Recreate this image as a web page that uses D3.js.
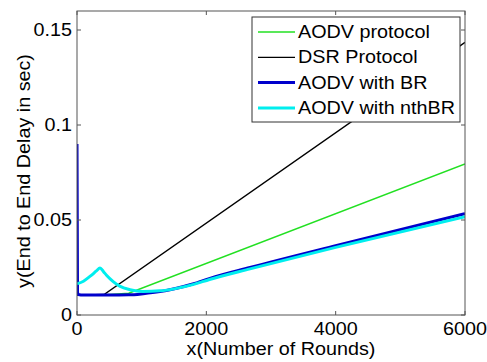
<!DOCTYPE html>
<html>
<head>
<meta charset="utf-8">
<script src="https://cdn.jsdelivr.net/npm/d3@7"></script>
<style>
  body { margin: 0; background: #fff; }
  text { font-family: "Liberation Sans", Arial, sans-serif; fill: #000; }
</style>
</head>
<body>
<div id="chart"></div>
<script>
// series
const aodvX = [0, 400, 800, 6000];
const aodvY = [0.0105, 0.0105, 0.0115, 0.0795];

const dsrX = [0, 418, 6000];
const dsrY = [0.0105, 0.0108, 0.1435];

const brX = [0, 8, 20, 100, 500, 800, 1025, 1283, 1541, 1790, 2056, 2675, 4000, 6000];
const brY = [0.09, 0.012, 0.0108, 0.0105, 0.0105, 0.0106, 0.0112, 0.0123, 0.0141, 0.0163, 0.0193, 0.0250, 0.0365, 0.0533];

const nthX = [0, 100, 200, 300, 356, 410, 460, 560, 660, 820, 1020, 1280, 1540, 1790, 2050, 2675, 4000, 6000];
const nthY = [0.0164, 0.0178, 0.0203, 0.0232, 0.0248, 0.0228, 0.0208, 0.0176, 0.0152, 0.0133, 0.0124, 0.0127, 0.0140, 0.0160, 0.0187, 0.0243, 0.0356, 0.0517];

const xTicks = [0, 2000, 4000, 6000];
const yTicks = [0, 0.05, 0.1, 0.15];
const yTickLabels = ["0", "0.05", "0.1", "0.15"];

const series = [
  {name: "AODV protocol", xs: aodvX, ys: aodvY, color: "#22e022", width: 1.5, curve: d3.curveLinear},
  {name: "DSR Protocol", xs: dsrX, ys: dsrY, color: "#000000", width: 1.3, curve: d3.curveLinear},
  {name: "AODV with BR", xs: brX, ys: brY, color: "#0000cc", width: 3, curve: d3.curveMonotoneX},
  {name: "AODV with nthBR", xs: nthX, ys: nthY, color: "#00eeee", width: 3, curve: d3.curveMonotoneX}
];

const W = 487, H = 362;
const margin = {top: 11, right: 22, bottom: 47, left: 77};
const w = W - margin.left - margin.right;
const h = H - margin.top - margin.bottom;
const sx = 1.13; // text in the picture is a bit wider than tall

const svg = d3.select('#chart').append('svg')
  .attr('width', W).attr('height', H);

const xScale = d3.scaleLinear().domain([0, 6000]).range([0, w]);
const yScale = d3.scaleLinear().domain([0, 0.16]).range([h, 0]);

const g = svg.append('g')
  .attr('transform', 'translate(' + margin.left + ',' + margin.top + ')');

function label(parent, x, y, str, anchor, rot) {
  return parent.append('text')
    .attr('transform', 'translate(' + x + ',' + y + ')' + (rot ? ' rotate(' + rot + ')' : '') + ' scale(' + sx + ',1)')
    .attr('text-anchor', anchor)
    .style('font-size', '17.5px')
    .text(str);
}

g.append('defs').append('clipPath').attr('id', 'clip')
  .append('rect').attr('width', w).attr('height', h);

const plot = g.append('g').attr('clip-path', 'url(#clip)');
series.forEach(s => {
  const line = d3.line()
    .x(d => xScale(d[0]))
    .y(d => yScale(d[1]))
    .curve(s.curve);
  plot.append('path')
    .datum(s.xs.map((x, i) => [x, s.ys[i]]))
    .attr('fill', 'none')
    .attr('stroke', s.color)
    .attr('stroke-width', s.width)
    .attr('d', line);
});

// axes box with inward ticks on all four sides
const axisColor = '#555';
g.append('rect')
  .attr('width', w).attr('height', h)
  .attr('fill', 'none').attr('stroke', axisColor).attr('stroke-width', 1);

xTicks.forEach(t => {
  const x = xScale(t);
  g.append('line').attr('x1', x).attr('x2', x).attr('y1', h).attr('y2', h - 4).attr('stroke', axisColor);
  g.append('line').attr('x1', x).attr('x2', x).attr('y1', 0).attr('y2', 4).attr('stroke', axisColor);
  label(g, x, h + 20, String(t), 'middle');
});
yTicks.forEach((t, i) => {
  const y = yScale(t);
  g.append('line').attr('x1', 0).attr('x2', 4).attr('y1', y).attr('y2', y).attr('stroke', axisColor);
  g.append('line').attr('x1', w).attr('x2', w - 4).attr('y1', y).attr('y2', y).attr('stroke', axisColor);
  label(g, -5, y + 6, yTickLabels[i], 'end');
});

label(svg, 281, 355, 'x(Number of Rounds)', 'middle');
label(svg, 30, 171, 'y(End to End Delay in sec)', 'middle', -90);

// legend
const lg = svg.append('g').attr('transform', 'translate(252,17)');
lg.append('rect').attr('width', 208).attr('height', 105)
  .attr('fill', '#fff').attr('stroke', '#333').attr('stroke-width', 1);
series.forEach((s, i) => {
  const y = 15 + i * 25.3;
  lg.append('line').attr('x1', 6).attr('x2', 43).attr('y1', y).attr('y2', y)
    .attr('stroke', s.color).attr('stroke-width', s.width);
  label(lg, 46, y + 6, s.name, 'start');
});
</script>
</body>
</html>
